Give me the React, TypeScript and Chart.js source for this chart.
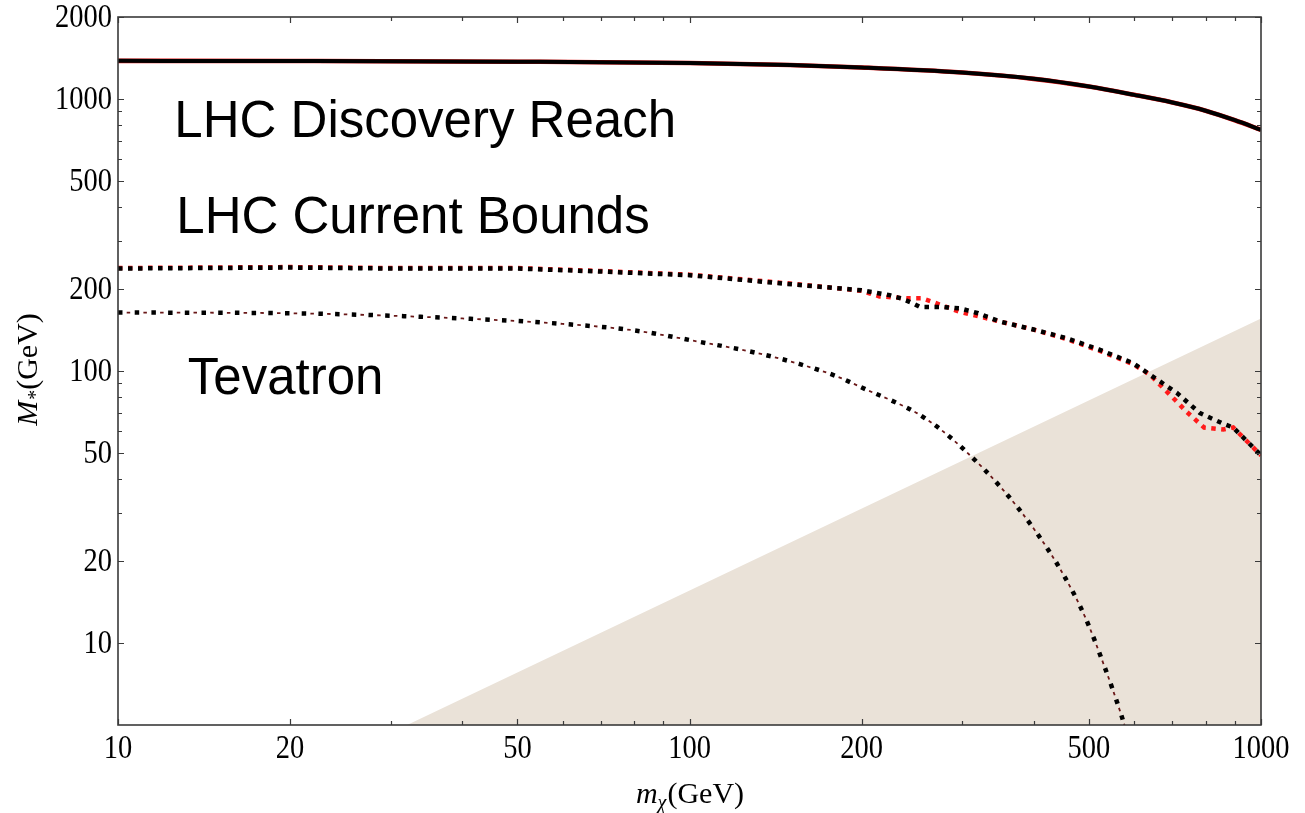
import React, { useEffect, useRef } from "react";
import { Chart, registerables } from "chart.js";
Chart.register(...registerables);

// m_chi (GeV) and M_* (GeV)
const discoveryX = [10, 20, 50, 100, 150, 200, 300, 400, 500, 600, 700, 800, 900, 1000];
const discoveryY = [1380, 1378, 1370, 1355, 1332, 1305, 1250, 1185, 1110, 1035, 970, 905, 835, 770];

const currentX = [10, 20, 30, 50, 70, 100, 156, 200, 224, 236, 245, 253, 275, 297, 320, 349, 400, 457, 520, 597, 639, 713, 782, 859, 894, 1000];
const currentY = [238, 240, 238, 238, 232, 225, 207, 198, 190, 184, 178, 172, 172, 170, 163, 152, 142, 132, 120, 107, 97, 83, 70, 64, 62, 49];
const currentRedX = [10, 20, 30, 50, 70, 100, 156, 200, 215, 240, 255, 267, 297, 320, 349, 400, 457, 520, 597, 639, 713, 740, 795, 859, 894, 1000];
const currentRedY = [239, 241, 239, 239, 233, 226, 208, 197, 188, 185, 185, 179, 165, 159, 152, 142, 131, 119, 106, 97, 77, 71, 62, 61, 62, 49];

const tevX = [10, 20, 40, 60, 80, 104, 130, 156, 180, 205, 230, 250, 275, 305, 354, 402, 448, 492, 530, 567, 600];
const tevY = [164, 163, 156, 149, 141, 128, 117, 106, 96, 85, 76.5, 70, 61, 50.5, 36.5, 26, 18.3, 12.5, 8.4, 5.6, 3.8];

const shadeX = [10, 1000];
const shadeY = [1.56, 156];

const xMajor = [10, 20, 50, 100, 200, 500, 1000];
const xMinor = [30, 40, 60, 70, 80, 90, 300, 400, 600, 700, 800, 900];
const yMajor = [10, 20, 50, 100, 200, 500, 1000, 2000];
const yMinor = [30, 40, 60, 70, 80, 90, 300, 400, 600, 700, 800, 900];

const labels = [
  { text: "LHC Discovery Reach", x: 12.55, y: 724 },
  { text: "LHC Current Bounds", x: 12.65, y: 321 },
  { text: "Tevatron", x: 13.25, y: 82 },
];

const pts = (xs: number[], ys: number[]) => xs.map((x, i) => ({ x, y: ys[i] }));

const decorPlugin = {
  id: "decor",
  afterDatasetsDraw(chart: any) {
    const ctx = chart.ctx;
    const xs = chart.scales.x;
    const ys = chart.scales.y;
    const a = chart.chartArea;
    ctx.save();
    // annotations
    ctx.fillStyle = "#000";
    ctx.font = '51px "Liberation Sans", Arial, sans-serif';
    ctx.textAlign = "left";
    ctx.textBaseline = "alphabetic";
    labels.forEach((l) => {
      ctx.fillText(l.text, xs.getPixelForValue(l.x), ys.getPixelForValue(l.y));
    });

    // frame
    ctx.strokeStyle = "#3a3a3a";
    ctx.lineWidth = 1.6;
    ctx.strokeRect(a.left, a.top, a.right - a.left, a.bottom - a.top);

    // ticks
    ctx.lineWidth = 1.2;
    const tick = (vals: number[], len: number) => {
      vals.forEach((v) => {
        const px = Math.round(xs.getPixelForValue(v)) + 0.5;
        ctx.beginPath();
        ctx.moveTo(px, a.bottom);
        ctx.lineTo(px, a.bottom - len);
        ctx.moveTo(px, a.top);
        ctx.lineTo(px, a.top + len);
        ctx.stroke();
      });
    };
    const tickY = (vals: number[], len: number) => {
      vals.forEach((v) => {
        const py = Math.round(ys.getPixelForValue(v)) + 0.5;
        ctx.beginPath();
        ctx.moveTo(a.left, py);
        ctx.lineTo(a.left + len, py);
        ctx.moveTo(a.right, py);
        ctx.lineTo(a.right - len, py);
        ctx.stroke();
      });
    };
    tick(xMajor, 6);
    tick(xMinor, 4);
    tickY(yMajor, 6);
    tickY(yMinor, 4);

    // tick labels (slightly tall serif, as in the original rendering)
    const stretch = 1.17;
    ctx.fillStyle = "#000";
    ctx.font = '28.5px "Liberation Serif", "Times New Roman", serif';
    ctx.textAlign = "center";
    ctx.textBaseline = "alphabetic";
    xMajor.forEach((v) => {
      ctx.save();
      ctx.translate(xs.getPixelForValue(v), a.bottom + 33);
      ctx.scale(1, stretch);
      ctx.fillText(String(v), 0, 0);
      ctx.restore();
    });
    ctx.textAlign = "right";
    ctx.textBaseline = "middle";
    yMajor.forEach((v) => {
      ctx.save();
      ctx.translate(a.left - 6, ys.getPixelForValue(v) + 1);
      ctx.scale(1, stretch);
      ctx.fillText(String(v), 0, 0);
      ctx.restore();
    });

    // axis titles
    const big = 30;
    const small = 20;
    const fItal = (s: number) => `italic ${s}px "Liberation Serif", "Times New Roman", serif`;
    const fReg = (s: number) => `${s}px "Liberation Serif", "Times New Roman", serif`;
    const drawTitle = (main: string, sub: string, rest: string, cx: number, baseY: number, subDrop: number) => {
      ctx.textAlign = "left";
      ctx.textBaseline = "alphabetic";
      ctx.font = fItal(big);
      const w1 = ctx.measureText(main).width;
      ctx.font = fItal(small);
      const w2 = ctx.measureText(sub).width;
      ctx.font = fReg(big);
      const w3 = ctx.measureText(rest).width;
      let x0 = cx - (w1 + w2 + w3) / 2;
      ctx.font = fItal(big);
      ctx.fillText(main, x0, baseY);
      x0 += w1;
      ctx.font = fItal(small);
      ctx.fillText(sub, x0, baseY + subDrop);
      x0 += w2 + 1;
      ctx.font = fReg(big);
      ctx.fillText(rest, x0, baseY);
    };
    drawTitle("m", "χ", "(GeV)", (a.left + a.right) / 2, 803, 6);
    ctx.save();
    ctx.translate(37, 370);
    ctx.rotate(-Math.PI / 2);
    drawTitle("M", "*", "(GeV)", 0, 0, 5);
    ctx.restore();

    ctx.restore();
  },
};

export default function App() {
  const ref = useRef<HTMLCanvasElement | null>(null);
  useEffect(() => {
    if (!ref.current) return;
    const chart = new Chart(ref.current, {
      type: "line",
      data: {
        datasets: [
          {
            label: "shade",
            data: pts(shadeX, shadeY),
            borderWidth: 0,
            borderColor: "rgba(0,0,0,0)",
            backgroundColor: "#eae2d8",
            fill: "start",
            pointRadius: 0,
            order: 10,
          },
          {
            label: "Discovery (red)",
            data: pts(discoveryX, discoveryY),
            borderColor: "#e01010",
            borderWidth: 4.6,
            pointRadius: 0,
            fill: false,
            cubicInterpolationMode: "monotone",
            order: 6,
          },
          {
            label: "Current (red)",
            data: pts(currentRedX, currentRedY),
            borderColor: "#ff1a1a",
            borderWidth: 4.5,
            borderDash: [4.5, 5.5],
            borderCapStyle: "butt",
            pointRadius: 0,
            fill: false,
            tension: 0,
            order: 6,
          },
          {
            label: "Tevatron (red)",
            data: pts(tevX, tevY),
            borderColor: "#6a1818",
            borderWidth: 1.8,
            borderDash: [3.5, 13.2],
            borderDashOffset: 8,
            borderCapStyle: "butt",
            pointRadius: 0,
            fill: false,
            cubicInterpolationMode: "monotone",
            order: 6,
          },
          {
            label: "LHC Discovery Reach",
            data: pts(discoveryX, discoveryY),
            borderColor: "#000",
            borderWidth: 4,
            pointRadius: 0,
            fill: false,
            cubicInterpolationMode: "monotone",
            order: 1,
          },
          {
            label: "LHC Current Bounds",
            data: pts(currentX, currentY),
            borderColor: "#000",
            borderWidth: 4.5,
            borderDash: [4.5, 5.5],
            borderCapStyle: "butt",
            pointRadius: 0,
            fill: false,
            tension: 0,
            order: 1,
          },
          {
            label: "Tevatron",
            data: pts(tevX, tevY),
            borderColor: "#000",
            borderWidth: 4.5,
            borderDash: [4.5, 12.2],
            borderCapStyle: "butt",
            pointRadius: 0,
            fill: false,
            cubicInterpolationMode: "monotone",
            order: 1,
          },
        ],
      },
      options: {
        responsive: false,
        animation: false,
        layout: { padding: { left: 118, right: 44, top: 17, bottom: 88 } },
        scales: {
          x: { type: "logarithmic", min: 10, max: 1000, display: false },
          y: { type: "logarithmic", min: 5, max: 2000, display: false },
        },
        plugins: {
          legend: { display: false },
          tooltip: { enabled: false },
        },
        events: [],
      },
      plugins: [decorPlugin],
    });
    return () => chart.destroy();
  }, []);
  return (
    <div style={{ position: "absolute", left: 0, top: 0, width: 1305, height: 813, background: "#fff" }}>
      <canvas ref={ref} width={1305} height={813} style={{ display: "block", width: 1305, height: 813 }} />
    </div>
  );
}
